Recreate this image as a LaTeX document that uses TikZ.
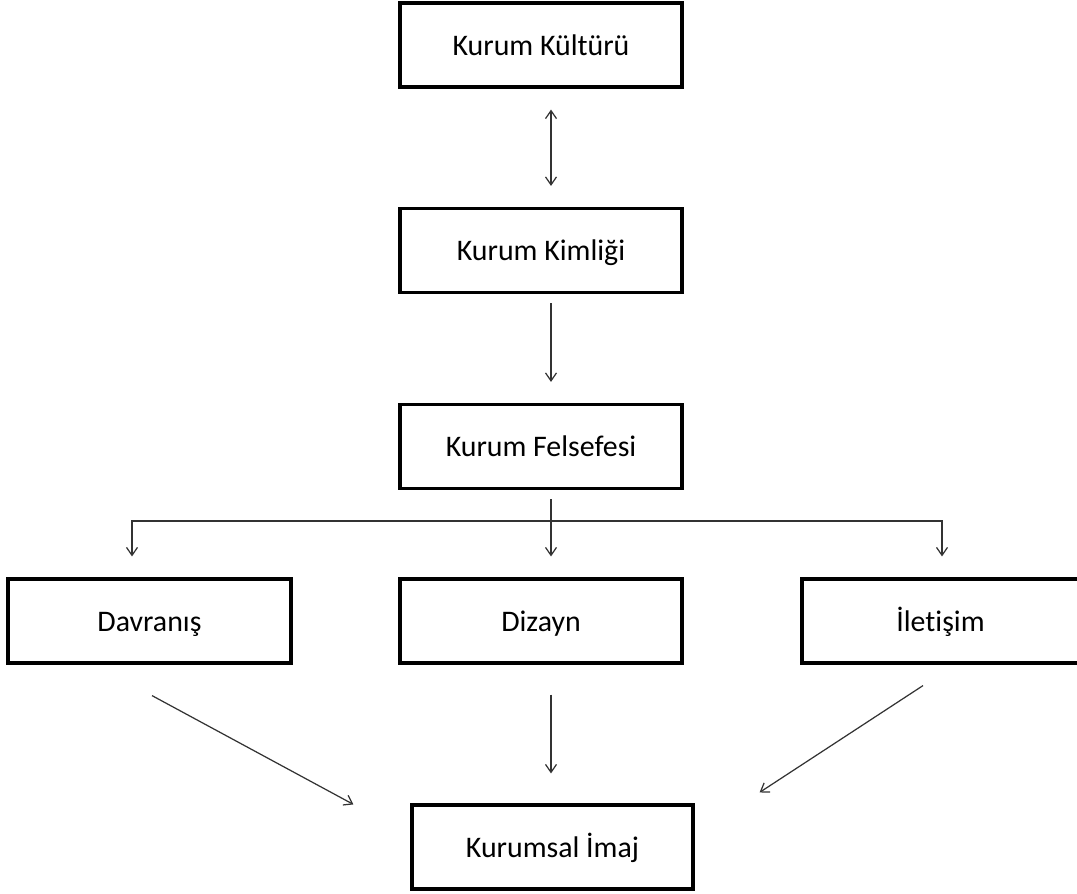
\documentclass[tikz,border=0pt]{standalone}
\usepackage{fontspec}
\setmainfont{Carlito}[Ligatures={NoCommon}]
\usetikzlibrary{arrows.meta}

\tikzset{
  kutu/.style={draw,line width=1.8pt,minimum width=5.64cm,minimum height=1.68cm,
    font=\fontsize{17}{20}\selectfont,inner sep=0pt,text height=14pt,text depth=2.6pt},
  ok/.style={draw=black!80,line width=0.7pt}
}

\begin{document}
\begin{tikzpicture}[x=0.02cm,y=-0.02cm,>={Straight Barb[length=1.6mm,width=2.2mm]}]
                \useasboundingbox (0,0) rectangle (1077,893);
                \node[kutu] (kultur) at (541,45) {Kurum Kültürü};
                \node[kutu] (kimlik) at (541,250.5) {Kurum Kimliği};
                \node[kutu] (felsefe) at (541,446.5) {Kurum Felsefesi};
                \node[kutu,minimum width=5.66cm] (davranis) at (149.5,621) {Davranış};
                \node[kutu] (dizayn) at (541,621) {Dizayn};
                \node[kutu,minimum width=5.54cm] (iletisim) at (940.5,621) {İletişim};
                \node[kutu,minimum width=5.62cm] (imaj) at (552.5,847) {Kurumsal İmaj};
                \draw [ok,<->] ([shift={(10,21)}]kultur.south) -- ([shift={(10,-21)}]kimlik.north);
                \draw [ok,->] ([shift={(10,9)}]kimlik.south) -- ([shift={(10,-21)}]felsefe.north);
                \draw [ok,->] ([shift={(10,9)}]felsefe.south) -- ([shift={(10,-21)}]dizayn.north);
                \draw [ok,->] ([shift={(10,31)}]felsefe.south) -| ([shift={(-17.5,-21)}]davranis.north);
                \draw [ok,->] ([shift={(10,31)}]felsefe.south) -| ([shift={(1.5,-21)}]iletisim.north);
                \draw [ok,->] ([shift={(10,30)}]dizayn.south) -- ([shift={(-1.5,-30)}]imaj.north);
                \draw [ok,->] ([shift={(2.5,31)}]davranis.south) -- ([shift={(-57,1)}]imaj.north west);
                \draw [ok,->] ([shift={(-17.5,21)}]iletisim.south) -- ([shift={(65,-11)}]imaj.north east);
            \end{tikzpicture}
\end{document}
